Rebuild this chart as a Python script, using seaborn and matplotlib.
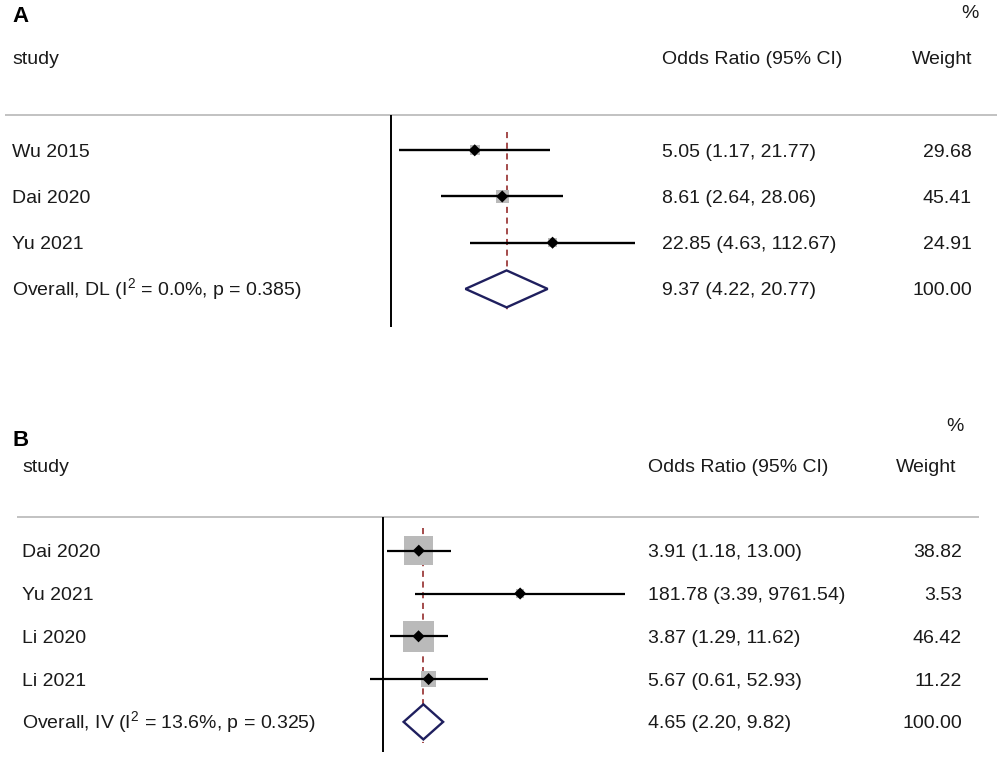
import matplotlib
matplotlib.use("Agg")
import matplotlib.pyplot as plt
import matplotlib.transforms as mtransforms
from matplotlib.patches import Polygon
import numpy as np
import pandas as pd
import seaborn as sns

# Panel A data
studies_a = ["Wu 2015", "Dai 2020", "Yu 2021"]
or_a = [5.05, 8.61, 22.85]
lo_a = [1.17, 2.64, 4.63]
hi_a = [21.77, 28.06, 112.67]
weight_a = [29.68, 45.41, 24.91]
overall_a = [9.37, 4.22, 20.77]
overall_weight_a = 100.00
overall_label_a = r"Overall, DL (I$^{2}$ = 0.0%, p = 0.385)"

# Panel B data
studies_b = ["Dai 2020", "Yu 2021", "Li 2020", "Li 2021"]
or_b = [3.91, 181.78, 3.87, 5.67]
lo_b = [1.18, 3.39, 1.29, 0.61]
hi_b = [13.00, 9761.54, 11.62, 52.93]
weight_b = [38.82, 3.53, 46.42, 11.22]
overall_b = [4.65, 2.20, 9.82]
overall_weight_b = 100.00
overall_label_b = r"Overall, IV (I$^{2}$ = 13.6%, p = 0.325)"

sns.set_theme(style="white")
plt.rcParams["font.family"] = ["Liberation Sans", "DejaVu Sans"]
plt.rcParams["mathtext.fontset"] = "custom"
plt.rcParams["mathtext.rm"] = "Liberation Sans"
plt.rcParams["mathtext.it"] = "Liberation Sans"

W, H = 999, 761
fig = plt.figure(figsize=(W / 100, H / 100), dpi=100)
fig.patch.set_facecolor("white")

TXT = "#1a1a1a"
FS = 14
BASE_PX = 6.5  # baseline sits this far below the row centre


def forest(ax, studies, ors, los, his, weights, overall, overall_w, overall_label, cfg):
    df = pd.DataFrame({"study": studies, "or": ors, "lo": los, "hi": his, "weight": weights})
    df["row"] = np.arange(len(df))
    n = len(df)
    off = BASE_PX / cfg["row_px"]

    # log x scale mapped so that OR=1 sits at cfg["null_px"]
    ax.set_xscale("log")
    ax.set_xlim(np.exp(-cfg["null_px"] / cfg["ppl"]), np.exp((W - cfg["null_px"]) / cfg["ppl"]))
    ax.set_ylim(cfg["ybot"], cfg["ytop"])
    ax.axis("off")
    tr = mtransforms.blended_transform_factory(ax.transAxes, ax.transData)

    # grey separator and null line
    ax.plot([cfg["sep_x0"] / W, cfg["sep_x1"] / W], [cfg["sep_row"]] * 2, transform=tr,
            color="#bdbdbd", lw=1.3, solid_capstyle="butt")
    ax.vlines(1, cfg["sep_row"], cfg["vline_bot"], color="black", lw=1.4)
    ax.vlines(overall[0], cfg["dash_top"], cfg["dash_bot"], color="#8b1a1a", lw=1.1,
              linestyles=(0, (4, 3)))

    # weight squares, CI lines, point estimates
    side_px = np.sqrt(df["weight"]) * cfg["box_scale"]
    sns.scatterplot(data=df, x="or", y="row", marker="s", s=(side_px * 0.72) ** 2,
                    color="#bababa", edgecolor="none", linewidth=0, ax=ax, legend=False, zorder=2)
    ax.hlines(df["row"], df["lo"], df["hi"], color="black", lw=cfg["ci_lw"], zorder=3)
    sns.scatterplot(data=df, x="or", y="row", marker="D", s=38, color="black",
                    edgecolor="none", ax=ax, legend=False, zorder=4)

    # overall diamond
    est, olo, ohi = overall
    h = cfg["dia_h"]
    ax.add_patch(Polygon([(olo, n), (est, n - h), (ohi, n), (est, n + h)], closed=True,
                         facecolor="white", edgecolor="#1f1f5e", lw=1.7, zorder=3))

    # text columns
    x_st, x_or, x_wt = cfg["x_study"] / W, cfg["x_or"] / W, cfg["x_wt"] / W
    kw = dict(transform=tr, va="baseline", fontsize=FS, color=TXT)
    ax.text(x_st, -2 + off, "study", ha="left", **kw)
    ax.text(x_or, -2 + off, "Odds Ratio (95% CI)", ha="left", **kw)
    ax.text(cfg["x_wt_head"] / W, -2 + off, "Weight", ha="right", **kw)
    ax.text(cfg["x_pct"] / W, cfg["pct_row"] + off, "%", ha="center", **kw)
    ax.text(12 / W, cfg["lab_row"], cfg["label"], transform=tr, ha="left", va="center",
            fontsize=16, fontweight="bold", color="black")
    for _, r in df.iterrows():
        y = r["row"] + off
        ax.text(x_st, y, r["study"], ha="left", **kw)
        ax.text(x_or, y, f"{r['or']:.2f} ({r['lo']:.2f}, {r['hi']:.2f})", ha="left", **kw)
        ax.text(x_wt, y, f"{r['weight']:.2f}", ha="right", **kw)
    ax.text(x_st, n + off, overall_label, ha="left", **kw)
    ax.text(x_or, n + off, f"{est:.2f} ({olo:.2f}, {ohi:.2f})", ha="left", **kw)
    ax.text(x_wt, n + off, f"{overall_w:.2f}", ha="right", **kw)


# Panel A: pixels 0..380, row r at 150.3 + 46.2 r
axA = fig.add_axes([0, 1 - 380 / H, 1, 380 / H])
cfgA = dict(null_px=391.2, ppl=51.57, row_px=46.2, ytop=-150.3 / 46.2, ybot=(380 - 150.3) / 46.2,
            sep_row=-0.76, sep_x0=5, sep_x1=997, vline_bot=3.82, dash_top=-0.40, dash_bot=3.49,
            box_scale=1.9, ci_lw=1.7, dia_h=0.40, x_study=12, x_or=662, x_wt=972, x_wt_head=972,
            x_pct=970, pct_row=-3.0, lab_row=(16 - 150.3) / 46.2, label="A")
forest(axA, studies_a, or_a, lo_a, hi_a, weight_a, overall_a, overall_weight_a, overall_label_a, cfgA)

# Panel B: pixels 400..761, row r at 550.7 + 42.8 r
axB = fig.add_axes([0, 0, 1, 361 / H])
cfgB = dict(null_px=382.8, ppl=26.4, row_px=42.8, ytop=(400 - 550.7) / 42.8, ybot=(761 - 550.7) / 42.8,
            sep_row=-0.79, sep_x0=17, sep_x1=979, vline_bot=4.70, dash_top=-0.53, dash_bot=4.49,
            box_scale=4.6, ci_lw=1.6, dia_h=0.41, x_study=22, x_or=648, x_wt=962, x_wt_head=956,
            x_pct=955, pct_row=-2.96, lab_row=(441 - 550.7) / 42.8, label="B")
forest(axB, studies_b, or_b, lo_b, hi_b, weight_b, overall_b, overall_weight_b, overall_label_b, cfgB)

fig.savefig("out.png", dpi=100, facecolor="white")
